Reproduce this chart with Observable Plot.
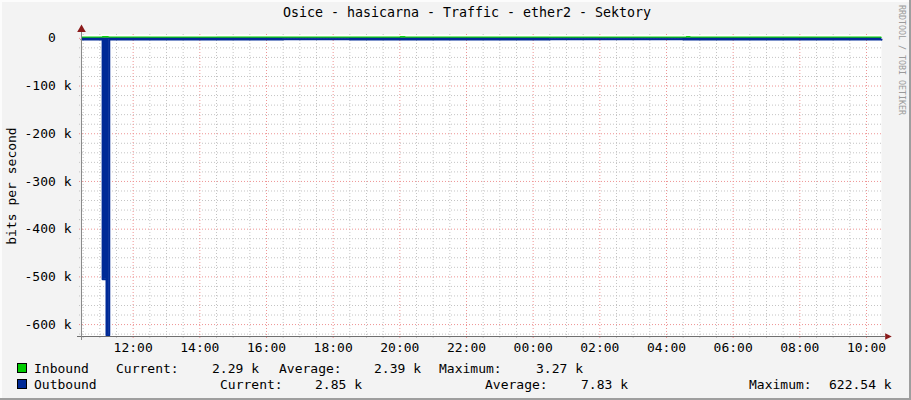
<!DOCTYPE html>
<html>
<head>
<meta charset="utf-8">
<script src="https://cdn.jsdelivr.net/npm/d3@7"></script>
<script src="https://cdn.jsdelivr.net/npm/@observablehq/plot@0.6"></script>
<style>
  html, body { margin: 0; padding: 0; background: #f3f3f3; }
  #chart {
    position: relative; width: 911px; height: 400px; overflow: hidden;
    background: #f3f3f3;
    box-shadow: inset -2px -2px 0 #9e9e9e, inset 2px 2px 0 #fcfcfc;
    font-family: "DejaVu Sans Mono", monospace; font-size: 13px; color: #000;
  }
  #title { position: absolute; top: 5px; left: 467px; transform: translateX(-50%); white-space: pre; font-size: 13.3px; line-height: 16px; }
  #ylabel { position: absolute; left: 11px; top: 186px; transform: translate(-50%, -50%) rotate(-90deg); white-space: pre; line-height: 13px; }
  #watermark { position: absolute; left: 897px; top: 5px; writing-mode: vertical-rl; font-size: 8.3px; color: #9a9a9a; white-space: pre; letter-spacing: 0px; }
  #plot { position: absolute; left: 0; top: 20px; }
  .lg { position: absolute; white-space: pre; line-height: 13px; }
  .box { position: absolute; width: 8px; height: 8px; border: 1px solid #000; }
</style>
</head>
<body>
<div id="chart">
  <div id="title"></div>
  <div id="ylabel"></div>
  <div id="watermark"></div>
  <div id="plot"></div>
  <div id="legend"></div>
</div>
<script>
// ---- data ----
const titleText = "Osice - hasicarna - Traffic - ether2 - Sektory";
const yLabelText = "bits per second";
const watermarkText = "RRDTOOL / TOBI OETIKER";

const startTime = "2024-05-14T10:27Z";
const endTime = "2024-05-15T10:27Z";

const yTicks = [0, -100000, -200000, -300000, -400000, -500000, -600000];
const yMin = -625000;
const yMax = 8000;

const inboundTimes = [
  "2024-05-14T10:27Z", "2024-05-14T11:05Z", "2024-05-14T11:16Z", "2024-05-14T12:30Z",
  "2024-05-14T14:30Z", "2024-05-14T16:30Z", "2024-05-14T18:30Z", "2024-05-14T20:01Z",
  "2024-05-14T20:10Z", "2024-05-14T22:30Z", "2024-05-15T00:30Z", "2024-05-15T02:30Z",
  "2024-05-15T04:36Z", "2024-05-15T04:43Z", "2024-05-15T06:30Z", "2024-05-15T08:30Z",
  "2024-05-15T10:27Z"
];
const inboundValues = [
  2350, 3270, 2400, 2300,
  2450, 2380, 2420, 3150,
  2400, 2350, 2300, 2280,
  3200, 2350, 2420, 2400,
  2290
];

const outboundTimes = [
  "2024-05-14T10:27Z", "2024-05-14T11:05Z", "2024-05-14T11:12Z", "2024-05-14T11:17Z",
  "2024-05-14T12:30Z", "2024-05-14T14:30Z", "2024-05-14T16:30Z", "2024-05-14T18:30Z",
  "2024-05-14T20:30Z", "2024-05-14T22:30Z", "2024-05-15T00:30Z", "2024-05-15T02:30Z",
  "2024-05-15T04:30Z", "2024-05-15T06:30Z", "2024-05-15T08:30Z", "2024-05-15T10:27Z"
];
const outboundValues = [
  -2400, -505000, -622540, -2500,
  -2300, -2250, -2200, -2350,
  -2400, -2300, -2150, -2100,
  -2250, -2300, -2400, -2850
];

const seriesNames = ["Inbound", "Outbound"];
const seriesColors = ["#00cc00", "#002a97"];
const inboundStats = { Current: "2.29 k", Average: "2.39 k", Maximum: "3.27 k" };
const outboundStats = { Current: "2.85 k", Average: "7.83 k", Maximum: "622.54 k" };

// ---- build ----
const parse = d => new Date(d);
const t0 = parse(startTime), t1 = parse(endTime);
const inbound = inboundTimes.map((t, i) => ({ time: parse(t), value: inboundValues[i] }));
const outbound = outboundTimes.map((t, i) => ({ time: parse(t), value: outboundValues[i] }));

const majorX = d3.utcHour.every(2).range(t0, t1);
const minorX = d3.utcMinute.every(30).range(t0, t1).filter(d => d.getUTCMinutes() !== 0 || d.getUTCHours() % 2 !== 0);
const majorY = d3.range(0, yMin, -100000);
const minorY = d3.range(0, yMin, -20000).filter(v => v % 100000 !== 0);

const fmtTime = d3.utcFormat("%H:%M");
const fmtY = v => v === 0 ? "0\u00a0\u00a0" : `${v / 1000} k`;

const rightTriangle = {
  draw(ctx, size) {
    const r = Math.sqrt(size / 3);
    ctx.moveTo(r * 1.3, 0);
    ctx.lineTo(-r * 0.7, -r);
    ctx.lineTo(-r * 0.7, r);
    ctx.closePath();
  }
};

const plot = Plot.plot({
  width: 911,
  height: 340,
  marginLeft: 81,
  marginRight: 30,
  marginTop: 14,
  marginBottom: 24,
  style: { fontFamily: "DejaVu Sans Mono, monospace", fontSize: "13px", background: "transparent", overflow: "visible", color: "#000" },
  x: { type: "utc", domain: [t0, t1], ticks: majorX, tickFormat: fmtTime, tickSize: 0, tickPadding: 6, label: null },
  y: { domain: [yMin, yMax], ticks: yTicks, tickFormat: fmtY, tickSize: 0, tickPadding: 10, label: null },
  marks: [
    Plot.frame({ fill: "#ffffff", stroke: "none" }),
    Plot.ruleY(minorY, { stroke: "#c4c4c4", strokeDasharray: "1,2", insetLeft: -2, insetRight: -2 }),
    Plot.ruleX(minorX, { stroke: "#c4c4c4", strokeDasharray: "1,2", insetBottom: -2, insetTop: 0 }),
    Plot.ruleY(majorY, { stroke: "#ee9494", strokeDasharray: "1,2", insetLeft: -2, insetRight: -2 }),
    Plot.ruleX(majorX, { stroke: "#ee9494", strokeDasharray: "1,2", insetBottom: -2, insetTop: 0 }),
    Plot.areaY(inbound, { x: "time", y: "value", fill: seriesColors[0], curve: "step-after" }),
    Plot.lineY(inbound, { x: "time", y: "value", stroke: seriesColors[0], strokeWidth: 1, curve: "step-after" }),
    Plot.areaY(outbound, { x: "time", y: "value", fill: seriesColors[1], curve: "step-after" }),
    Plot.lineY(outbound, { x: "time", y: "value", stroke: seriesColors[1], strokeWidth: 2, curve: "step-after" }),
    Plot.ruleY([yMin], { stroke: "#6f6f6f", insetLeft: -4, insetRight: -4 }),
    Plot.ruleX([t0], { stroke: "#8a8a8a", insetTop: -4, insetBottom: -4 }),
    Plot.dot([0], { x: () => t0, y: () => yMax, symbol: "triangle", r: 3.2, fill: "#8b1a1a", stroke: "none", dy: -5 }),
    Plot.dot([0], { x: () => t1, y: () => yMin, symbol: rightTriangle, r: 3.2, fill: "#8b1a1a", stroke: "none", dx: 6 })
  ]
});
document.getElementById("plot").appendChild(plot);

document.getElementById("title").textContent = titleText;
document.getElementById("ylabel").textContent = yLabelText;
document.getElementById("watermark").textContent = watermarkText;

// legend
const legend = document.getElementById("legend");
function addText(txt, left, top) {
  const s = document.createElement("div");
  s.className = "lg";
  s.style.left = left + "px";
  s.style.top = top + "px";
  s.textContent = txt;
  legend.appendChild(s);
}
function addBox(color, left, top) {
  const b = document.createElement("div");
  b.className = "box";
  b.style.left = left + "px";
  b.style.top = top + "px";
  b.style.background = color;
  legend.appendChild(b);
}
// row 1
addBox(seriesColors[0], 17, 363);
addText(seriesNames[0], 34, 362);
addText("Current:", 116, 362);
addText(inboundStats.Current, 212, 362);
addText("Average:", 279, 362);
addText(inboundStats.Average, 374, 362);
addText("Maximum:", 439, 362);
addText(inboundStats.Maximum, 536, 362);
// row 2
addBox(seriesColors[1], 17, 379);
addText(seriesNames[1], 34, 378);
addText("Current:", 220, 378);
addText(outboundStats.Current, 315, 378);
addText("Average:", 485, 378);
addText(outboundStats.Average, 581, 378);
addText("Maximum:", 749, 378);
addText(outboundStats.Maximum, 829, 378);
</script>
</body>
</html>
